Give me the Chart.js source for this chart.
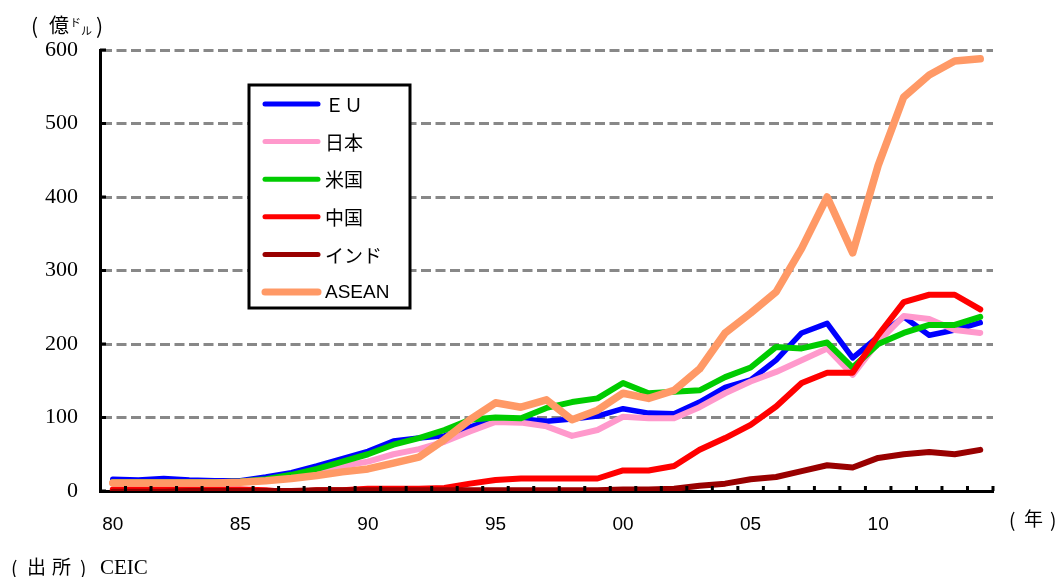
<!DOCTYPE html>
<html>
<head>
<meta charset="utf-8">
<script src="https://cdn.jsdelivr.net/npm/chart.js@4"></script>
<style>
  body { margin: 0; background: #fff; }
  #wrap { position: relative; width: 1062px; height: 577px; }
  .lbl { position: absolute; font-family: "Noto Sans CJK JP", sans-serif; color: #000; white-space: nowrap; line-height: 1; }
</style>
</head>
<body>
<div id="wrap">
  <canvas id="trade" width="1062" height="577"></canvas>
  <!-- unit label -->
  <div class="lbl" style="left:31px;top:15px;font-size:21px;">(</div>
  <div class="lbl" style="left:49px;top:15px;font-size:20px;">億</div>
  <div class="lbl" style="left:70px;top:17px;font-size:11px;">ド</div>
  <div class="lbl" style="left:81px;top:25px;font-size:11px;">ル</div>
  <div class="lbl" style="left:96px;top:15px;font-size:21px;">)</div>
  <!-- year label -->
  <div class="lbl" style="left:1009px;top:509px;font-size:19px;">(</div>
  <div class="lbl" style="left:1024px;top:508px;font-size:19px;">年</div>
  <div class="lbl" style="left:1050px;top:509px;font-size:19px;">)</div>
  <!-- source -->
  <div class="lbl" style="left:11px;top:557px;font-size:19px;">(</div>
  <div class="lbl" style="left:27px;top:556px;font-size:19px;letter-spacing:6px;">出所</div>
  <div class="lbl" style="left:80px;top:557px;font-size:19px;">)</div>
  <div class="lbl" style="left:100px;top:557px;font-size:21px;font-family:'Liberation Serif',serif;">CEIC</div>
</div>
<script>
const years = [];
for (let y = 1980; y <= 2014; y++) years.push(String(y));

const seriesNames = ['ＥＵ', '日本', '米国', '中国', 'インド', 'ASEAN'];

const eu = [16, 15, 17, 15, 14, 14, 19, 25, 34, 44,
            54, 68, 72, 75, 87, 99, 98, 95, 98, 102,
            112, 106, 105, 121, 141, 151, 178, 215, 228, 181,
            210, 237, 212, 219, 229];
const japan = [12, 12, 12, 12, 12, 12, 15, 20, 27, 34,
               40, 50, 57, 67, 81, 94, 93, 88, 75, 83,
               101, 99, 99, 114, 133, 149, 162, 178, 194, 158,
               203, 238, 234, 219, 215];
const us = [12, 12, 12, 12, 12, 13, 16, 22, 30, 40,
            50, 63, 72, 83, 97, 100, 99, 113, 121, 126,
            147, 133, 135, 137, 155, 168, 196, 194, 202, 168,
            200, 215, 226, 226, 237];
const china = [2, 2, 2, 2, 2, 2, 1, -2, 1, 1,
               3, 3, 3, 4, 10, 15, 17, 17, 17, 17,
               28, 28, 34, 56, 72, 90, 115, 147, 161, 161,
               212, 257, 267, 267, 247];
const india = [-1, -1, -1, 0, 0, 0, 0, 0, 1, 1,
               1, 1, 1, 1, 1, 1, 1, 1, 1, 1,
               2, 2, 3, 7, 10, 16, 19, 27, 35, 32,
               45, 50, 53, 50, 56];
const asean = [11, 11, 11, 11, 11, 12, 14, 17, 21, 26,
               30, 38, 46, 70, 97, 120, 114, 124, 97, 110,
               133, 126, 137, 166, 215, 242, 271, 330, 400, 324,
               443, 536, 566, 585, 588];

const yTicks = [0, 100, 200, 300, 400, 500, 600];

const colors = ['#0000ff', '#ff99cc', '#00cc00', '#ff0000', '#990000', '#ff9966'];
const widths = [5.5, 6, 6, 6, 6, 7.5];

function mkSet(i, data, order) {
    return {
        label: seriesNames[i],
        data: data,
        borderColor: colors[i],
        backgroundColor: colors[i],
        borderWidth: widths[i],
        pointRadius: 0,
        borderCapStyle: 'round',
        borderJoinStyle: 'round',
        tension: 0,
        order: order
    };
}

// inward tick marks + boxed legend inside the plot
const extras = {
    id: 'extras',
    afterDraw(chart) {
        const ctx = chart.ctx;
        const xs = chart.scales.x, ys = chart.scales.y;
        const area = chart.chartArea;
        ctx.save();
        ctx.strokeStyle = '#000';
        ctx.lineWidth = 3;
        ctx.beginPath();
        yTicks.forEach(v => {
            const py = ys.getPixelForValue(v);
            ctx.moveTo(area.left, py);
            ctx.lineTo(area.left + 6, py);
        });
        const step = (area.right - area.left) / years.length;
        for (let i = 1; i <= years.length; i++) {
            const px = xs.getPixelForValue(i - 1) + step / 2;
            ctx.moveTo(px, area.bottom);
            ctx.lineTo(px, area.bottom - 5);
        }
        ctx.stroke();

        // legend
        const bx = 249, by = 85, bw = 161, bh = 223;
        ctx.fillStyle = '#fff';
        ctx.fillRect(bx, by, bw, bh);
        ctx.lineWidth = 3;
        ctx.strokeRect(bx, by, bw, bh);
        ctx.lineCap = 'round';
        ctx.textBaseline = 'middle';
        chart.data.datasets.forEach((ds, i) => {
            const ry = 104 + i * 37.6;
            ctx.strokeStyle = ds.borderColor;
            ctx.lineWidth = i === 5 ? 7 : 5;
            ctx.beginPath();
            ctx.moveTo(265, ry);
            ctx.lineTo(318, ry);
            ctx.stroke();
            ctx.fillStyle = '#000';
            ctx.font = i === 5 ? '19px "Liberation Sans", sans-serif' : '19px "Noto Sans CJK JP", sans-serif';
            ctx.fillText(ds.label, 325, ry + 1);
        });
        ctx.restore();
    }
};

const chart = new Chart(document.getElementById('trade'), {
    type: 'line',
    data: {
        labels: years,
        datasets: [
            mkSet(0, eu, 6),
            mkSet(1, japan, 5),
            mkSet(2, us, 4),
            mkSet(3, china, 3),
            mkSet(4, india, 2),
            mkSet(5, asean, 1)
        ]
    },
    options: {
        responsive: false,
        animation: false,
        layout: { padding: { left: 0, top: 50, right: 69, bottom: 36 } },
        plugins: {
            legend: { display: false },
            tooltip: { enabled: false }
        },
        scales: {
            x: {
                type: 'category',
                offset: true,
                afterFit(scale) { scale.height = 50; },
                grid: { display: false, drawTicks: false },
                border: { display: true, color: '#000', width: 3 },
                ticks: {
                    autoSkip: false,
                    maxRotation: 0,
                    padding: 22,
                    color: '#000',
                    font: { family: '"Liberation Sans", Arial, sans-serif', size: 19 },
                    callback(val) {
                        const y = Number(years[val]);
                        return y % 5 === 0 ? String(y).slice(2) : '';
                    }
                }
            },
            y: {
                min: 0,
                max: 600,
                afterFit(scale) { scale.width = 100; },
                grid: {
                    drawTicks: false,
                    lineWidth: 3,
                    color: c => c.tick && c.tick.value === 0 ? 'rgba(0,0,0,0)' : '#888888'
                },
                border: { display: true, color: '#000', width: 3, dash: [10, 4.5] },
                ticks: {
                    stepSize: 100,
                    padding: 22,
                    color: '#000',
                    font: { family: '"Liberation Serif", "Times New Roman", serif', size: 22 }
                }
            }
        }
    },
    plugins: [extras]
});
</script>
</body>
</html>
